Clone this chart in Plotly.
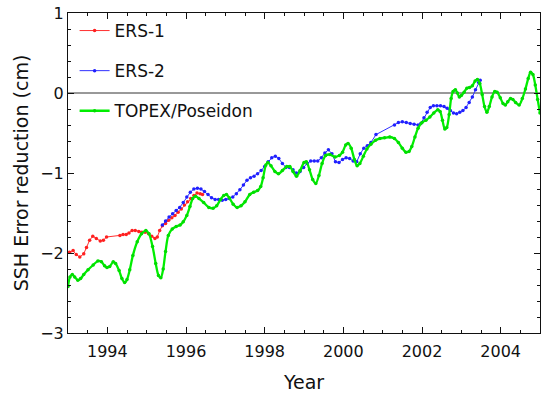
import plotly.graph_objects as go

# ERS-1 sea surface height error reduction (cm)
ers1_year = [1993.04, 1993.13, 1993.21, 1993.30, 1993.40, 1993.47, 1993.55, 1993.63,
             1993.72, 1993.82, 1993.90, 1993.98, 1994.32, 1994.40, 1994.48, 1994.55,
             1994.63, 1994.71, 1994.80, 1994.88, 1994.96, 1995.05, 1995.13, 1995.21,
             1995.27, 1995.33, 1995.40, 1995.48, 1995.56, 1995.64, 1995.72, 1995.80,
             1995.88, 1995.96, 1996.04, 1996.12, 1996.20, 1996.28, 1996.36, 1996.42]
ers1_val = [-1.99, -1.97, -2.02, -2.05, -2.01, -1.93, -1.84, -1.79,
            -1.82, -1.85, -1.84, -1.80, -1.78, -1.77, -1.77, -1.75,
            -1.72, -1.72, -1.73, -1.74, -1.74, -1.76, -1.79, -1.82,
            -1.80, -1.72, -1.66, -1.63, -1.59, -1.56, -1.53, -1.49,
            -1.45, -1.40, -1.36, -1.32, -1.28, -1.25, -1.26, -1.27]

# ERS-2
ers2_year = [1995.40, 1995.48, 1995.57, 1995.66, 1995.75, 1995.84, 1995.93, 1996.02,
             1996.11, 1996.20, 1996.29, 1996.38, 1996.47, 1996.56, 1996.65, 1996.74,
             1996.83, 1996.92, 1997.01, 1997.10, 1997.19, 1997.28, 1997.37, 1997.46,
             1997.55, 1997.64, 1997.73, 1997.82, 1997.91, 1998.00, 1998.09, 1998.18,
             1998.27, 1998.36, 1998.45, 1998.54, 1998.63, 1998.72, 1998.81, 1998.90,
             1998.99, 1999.08, 1999.17, 1999.26, 1999.35, 1999.44, 1999.53, 1999.62,
             1999.71, 1999.80, 1999.89, 1999.98, 2000.07, 2000.16, 2000.25, 2000.34,
             2000.43, 2000.52, 2000.61, 2000.70, 2000.83, 2001.30, 2001.40, 2001.50,
             2001.60, 2001.70, 2001.80, 2001.90, 2001.97, 2002.05, 2002.13, 2002.21,
             2002.29, 2002.38, 2002.47, 2002.56, 2002.64, 2002.72, 2002.80, 2002.88,
             2002.96, 2003.04, 2003.12, 2003.20, 2003.28, 2003.36, 2003.44, 2003.48]
ers2_val = [-1.65, -1.60, -1.55, -1.51, -1.47, -1.43, -1.37, -1.30,
            -1.24, -1.20, -1.19, -1.20, -1.23, -1.27, -1.31, -1.33,
            -1.33, -1.34, -1.33, -1.32, -1.30, -1.26, -1.21, -1.15,
            -1.09, -1.06, -1.04, -1.01, -0.97, -0.92, -0.86, -0.81,
            -0.79, -0.82, -0.88, -0.93, -0.93, -0.96, -1.00, -0.98,
            -0.93, -0.88, -0.85, -0.85, -0.85, -0.81, -0.75, -0.71,
            -0.76, -0.86, -0.87, -0.83, -0.81, -0.82, -0.85, -0.86,
            -0.76, -0.69, -0.66, -0.62, -0.52, -0.40, -0.37, -0.36,
            -0.37, -0.38, -0.39, -0.40, -0.38, -0.31, -0.24, -0.18,
            -0.16, -0.16, -0.16, -0.17, -0.19, -0.22, -0.25, -0.26,
            -0.24, -0.22, -0.18, -0.12, -0.05, 0.04, 0.13, 0.16]

# TOPEX/Poseidon
topex_year = [1993.00, 1993.05, 1993.11, 1993.17, 1993.25, 1993.32, 1993.40, 1993.51,
              1993.64, 1993.76, 1993.85, 1993.93, 1993.99, 1994.06, 1994.15, 1994.21,
              1994.30, 1994.37, 1994.44, 1994.50, 1994.57, 1994.65, 1994.76, 1994.87,
              1994.98, 1995.06, 1995.15, 1995.23, 1995.30, 1995.36, 1995.42, 1995.48,
              1995.55, 1995.65, 1995.75, 1995.85, 1995.93, 1996.02, 1996.10, 1996.17,
              1996.24, 1996.33, 1996.45, 1996.58, 1996.69, 1996.78, 1996.88, 1996.96,
              1997.03, 1997.10, 1997.20, 1997.30, 1997.40, 1997.50, 1997.62, 1997.72,
              1997.82, 1997.90, 1997.96, 1998.03, 1998.08, 1998.16, 1998.26, 1998.35,
              1998.45, 1998.56, 1998.64, 1998.72, 1998.81, 1998.90, 1999.00, 1999.06,
              1999.14, 1999.22, 1999.30, 1999.38, 1999.46, 1999.55, 1999.66, 1999.79,
              1999.90, 1999.98, 2000.06, 2000.12, 2000.20, 2000.28, 2000.35, 2000.42,
              2000.51, 2000.60, 2000.70, 2000.82, 2000.93, 2001.05, 2001.18, 2001.30,
              2001.40, 2001.50, 2001.59, 2001.67, 2001.74, 2001.82, 2001.90, 2002.00,
              2002.10, 2002.20, 2002.30, 2002.40, 2002.46, 2002.52, 2002.58, 2002.63,
              2002.69, 2002.74, 2002.79, 2002.85, 2002.90, 2002.95, 2003.00, 2003.07,
              2003.14, 2003.21, 2003.28, 2003.35, 2003.41, 2003.47, 2003.53, 2003.59,
              2003.65, 2003.71, 2003.78, 2003.85, 2003.91, 2003.99, 2004.06, 2004.12,
              2004.18, 2004.25, 2004.31, 2004.38, 2004.47, 2004.55, 2004.63, 2004.70,
              2004.76, 2004.82, 2004.88, 2004.94, 2005.00]
topex_val = [-2.42, -2.30, -2.27, -2.30, -2.34, -2.32, -2.27, -2.21,
             -2.15, -2.10, -2.11, -2.16, -2.18, -2.17, -2.11, -2.13,
             -2.22, -2.32, -2.37, -2.33, -2.21, -2.03, -1.86, -1.76,
             -1.72, -1.76, -1.92, -2.13, -2.28, -2.31, -2.20, -1.98,
             -1.78, -1.70, -1.67, -1.65, -1.61, -1.53, -1.42, -1.32,
             -1.29, -1.32, -1.37, -1.43, -1.44, -1.41, -1.33, -1.28,
             -1.27, -1.31, -1.39, -1.43, -1.41, -1.36, -1.27, -1.24,
             -1.22, -1.17, -1.06, -0.90, -0.87, -0.91, -0.98, -1.01,
             -0.97, -0.92, -0.92, -0.98, -1.04, -0.97, -0.87, -0.86,
             -0.96, -1.08, -1.13, -1.03, -0.88, -0.78, -0.77, -0.80,
             -0.78, -0.74, -0.65, -0.63, -0.69, -0.83, -0.91, -0.88,
             -0.79, -0.70, -0.64, -0.59, -0.57, -0.56, -0.55, -0.57,
             -0.62, -0.69, -0.74, -0.73, -0.67, -0.55, -0.44, -0.37,
             -0.34, -0.30, -0.25, -0.21, -0.23, -0.34, -0.45, -0.43,
             -0.27, -0.07, 0.02, 0.04, 0.00, -0.05, -0.03, 0.01,
             0.06, 0.07, 0.09, 0.15, 0.17, 0.12, -0.02, -0.17,
             -0.24, -0.17, -0.05, 0.02, 0.01, -0.06, -0.13, -0.15,
             -0.11, -0.07, -0.08, -0.12, -0.15, -0.07, 0.05, 0.18,
             0.26, 0.23, 0.10, -0.08, -0.25]

FONT = "DejaVu Sans"
INK = "#111111"

fig = go.Figure()

fig.add_trace(go.Scatter(
    x=ers1_year, y=ers1_val, name="ERS-1", mode="lines+markers",
    line=dict(color="#ff3030", width=1), marker=dict(color="#ff2020", size=3.5),
    legendgroup="a"))
fig.add_trace(go.Scatter(
    x=ers2_year, y=ers2_val, name="ERS-2", mode="lines+markers",
    line=dict(color="#3030ff", width=1), marker=dict(color="#2020ff", size=3.5),
    legendgroup="b"))
fig.add_trace(go.Scatter(
    x=topex_year, y=topex_val, name="TOPEX/Poseidon", mode="lines+markers",
    line=dict(color="#00ee00", width=2.3, shape="spline", smoothing=0.8),
    marker=dict(color="#00dd00", size=3.5),
    legendgroup="c"))

# reference line at zero
fig.add_hline(y=0, line=dict(color="#333333", width=1), layer="below")

axis_common = dict(
    showline=True, linecolor=INK, linewidth=1, mirror="ticks",
    ticks="inside", ticklen=6, tickwidth=1, tickcolor=INK,
    showgrid=False, zeroline=False,
    tickfont=dict(family=FONT, size=16, color=INK),
)

fig.update_xaxes(
    range=[1993, 2005], tick0=1994, dtick=2, ticklabelstandoff=4,
    minor=dict(dtick=0.5, tick0=1993, ticks="inside", ticklen=3, tickcolor=INK),
    title=dict(text="Year", font=dict(family=FONT, size=19, color=INK), standoff=16),
    **axis_common)
fig.update_yaxes(
    range=[-3, 1], tick0=-3, dtick=1,
    minor=dict(dtick=0.2, tick0=-3, ticks="inside", ticklen=3, tickcolor=INK),
    title=dict(text="SSH Error reduction (cm)", font=dict(family=FONT, size=19, color=INK),
               standoff=6),
    **axis_common)

fig.update_layout(
    width=542, height=393,
    margin=dict(l=68, r=2, t=13, b=60),
    paper_bgcolor="white", plot_bgcolor="white",
    font=dict(family=FONT, color=INK),
    legend=dict(x=0.014, y=1.0, xanchor="left", yanchor="top",
                bgcolor="rgba(0,0,0,0)", font=dict(family=FONT, size=17, color=INK),
                tracegroupgap=15, itemwidth=30),
)

fig.write_html("out.html")
